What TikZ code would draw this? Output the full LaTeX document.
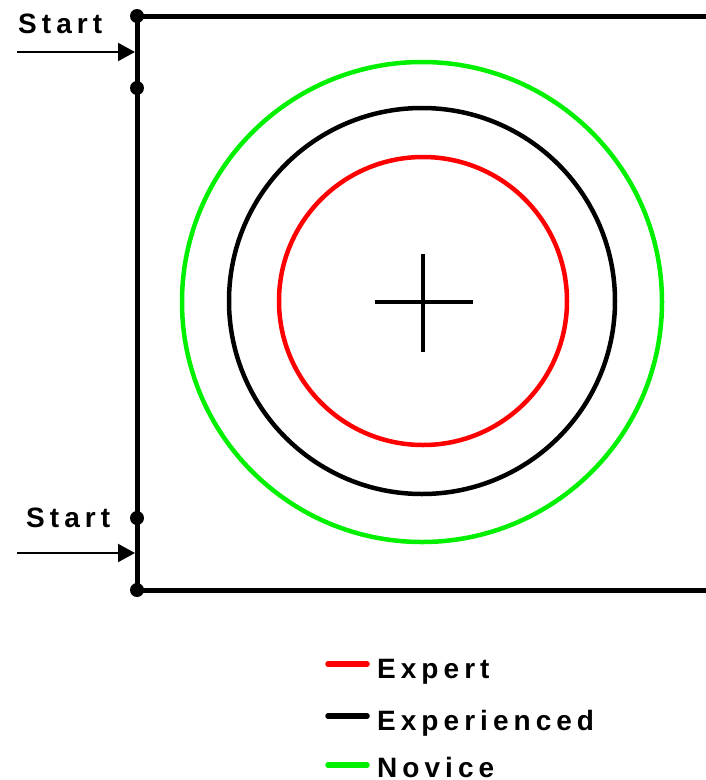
\documentclass[tikz,border=0pt]{standalone}
\usepackage{fontspec}
\setmainfont{Liberation Sans}
\newfontfamily\lblfont[LetterSpace=18]{Liberation Sans}
\usetikzlibrary{arrows.meta}
\begin{document}
\begin{tikzpicture}[x=1pt,y=-1pt,
  frame/.style={line width=5pt},
  ring/.style={line width=4.5pt},
  dotpt/.style={circle,fill=black,inner sep=0pt,minimum size=14pt},
  startarrow/.style={line width=2.2pt,-{Triangle[length=17pt,width=18pt]}},
  lbl/.style={font=\lblfont\bfseries\fontsize{28}{32}\selectfont,inner sep=0pt},
  legline/.style={line width=5.5pt,line cap=round}]
\useasboundingbox (0,0) rectangle (706,780);
\definecolor{nred}{RGB}{255,0,0}
\definecolor{ngreen}{RGB}{0,240,0}
% frame
\coordinate (TR) at (710,16);
\coordinate (BR) at (710,590);
\node[dotpt] (d1) at (137,16) {};
\node[dotpt] (d2) at (137,88) {};
\node[dotpt] (d3) at (137,518) {};
\node[dotpt] (d4) at (137,590) {};
\draw[frame] (TR) -- (d1.center) -- (d4.center) -- (BR);
% start arrows
\coordinate (a1s) at (17,52);
\coordinate (a1e) at (135,52);
\coordinate (a2s) at (17,553);
\coordinate (a2e) at (135,553);
\draw[startarrow] (a1s) -- (a1e);
\draw[startarrow] (a2s) -- (a2e);
\node[lbl,anchor=base west] (s1) at (18,33) {Start};
\node[lbl,anchor=base west] (s2) at (26,527) {Start};
% circles
\coordinate (c) at (422,301);
\draw[ring,ngreen] (422,302) circle (240);
\draw[ring,black] (c) circle (193);
\draw[ring,nred] (423,301) circle (144);
% cross
\coordinate (h1) at (375,302);
\coordinate (h2) at (473,302);
\coordinate (v1) at (423,254);
\coordinate (v2) at (423,352);
\draw[line width=3.2pt] (h1) -- (h2);
\draw[line width=3.2pt] (v1) -- (v2);
% legend
\coordinate (l1a) at (328,664);
\coordinate (l1b) at (367,664);
\coordinate (l2a) at (328,716);
\coordinate (l2b) at (367,716);
\coordinate (l3a) at (328,765);
\coordinate (l3b) at (367,765);
\draw[legline,nred] (l1a) -- (l1b);
\draw[legline,black] (l2a) -- (l2b);
\draw[legline,ngreen] (l3a) -- (l3b);
\node[lbl,anchor=base west] (t1) at (377,678) {Expert};
\node[lbl,anchor=base west] (t2) at (377,730) {Experienced};
\node[lbl,anchor=base west] (t3) at (377,777) {Novice};
\end{tikzpicture}
\end{document}
